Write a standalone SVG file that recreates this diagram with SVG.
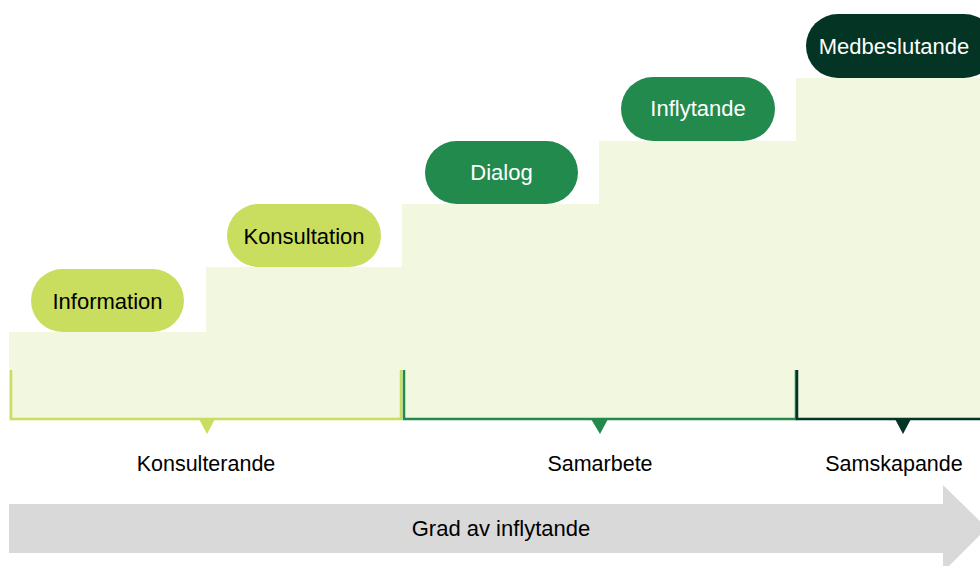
<svg xmlns="http://www.w3.org/2000/svg" width="980" height="566" viewBox="0 0 980 566">
<style>
.bg{fill:#F2F7DF}
.pill text{font-family:"Liberation Sans",Arial,sans-serif;font-size:22px;text-anchor:middle}
.lbl{font-family:"Liberation Sans",Arial,sans-serif;font-size:21.5px;text-anchor:middle;fill:#000}
.lg{fill:#C9DD5E}
.g{fill:#238A4E}
.dk{fill:#033424}
.dark text,.mid text{fill:#fff}
.light text{fill:#000}
</style>
<rect width="980" height="566" fill="#fff"/>
<g id="stairs">
<path class="bg" d="M9 332 H206 V267 H402 V204 H599 V141 H796 V78 H980 V420 H9 Z"/>
</g>
<g id="brackets">
<path d="M11 370 V419 H401 V370" fill="none" stroke="#C9DD5E" stroke-width="2.5"/>
<polygon class="lg" points="199,419 215,419 207,434"/>
<path d="M404 370 V419 H796 V370" fill="none" stroke="#238A4E" stroke-width="2.5"/>
<polygon class="g" points="591,419 608,419 600,434"/>
<path d="M797 370 V419 H980" fill="none" stroke="#033424" stroke-width="2.5"/>
<polygon class="dk" points="895,419 911,419 903,434"/>
</g>
<g id="information" class="pill light">
<rect class="lg" x="31" y="269" width="153" height="63" rx="31.5"/>
<text x="107.5" y="309">Information</text>
</g>
<g id="konsultation" class="pill light">
<rect class="lg" x="227" y="204" width="154" height="63" rx="31.5"/>
<text x="304" y="244">Konsultation</text>
</g>
<g id="dialog" class="pill mid">
<rect class="g" x="425" y="141" width="153" height="63" rx="31.5"/>
<text x="501.5" y="179.5">Dialog</text>
</g>
<g id="inflytande" class="pill mid">
<rect class="g" x="621" y="77" width="154" height="64" rx="32"/>
<text x="698" y="115.5">Inflytande</text>
</g>
<g id="medbeslutande" class="pill dark">
<rect class="dk" x="806" y="14" width="190" height="64" rx="32"/>
<text x="894" y="54">Medbeslutande</text>
</g>
<g id="labels">
<text class="lbl" x="206" y="471">Konsulterande</text>
<text class="lbl" x="600" y="471">Samarbete</text>
<text class="lbl" x="894" y="471">Samskapande</text>
</g>
<g id="arrow">
<rect x="9" y="504" width="935" height="49" fill="#D9D9D9"/>
<polygon points="943,485 987,528 943,572" fill="#D9D9D9"/>
<text class="lbl" x="501" y="535.5" style="font-size:22px">Grad av inflytande</text>
</g>
</svg>
